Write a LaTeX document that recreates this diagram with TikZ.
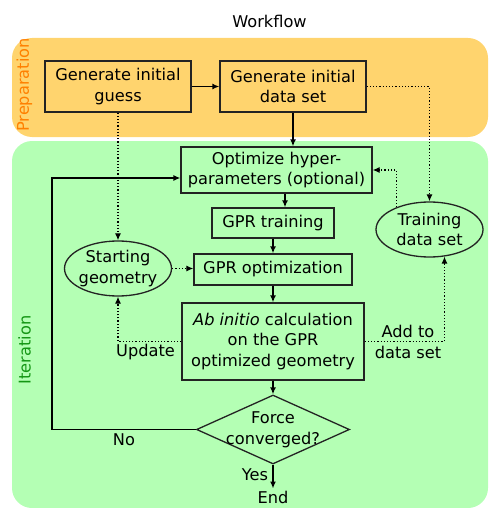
\documentclass[tikz,border=0pt]{standalone}
\usepackage{fontspec}
\setmainfont{DejaVu Sans}
\usetikzlibrary{shapes.geometric,arrows.meta,calc}
\definecolor{prepfill}{RGB}{255,212,110}
\definecolor{iterfill}{RGB}{180,255,180}
\definecolor{preptext}{RGB}{255,128,0}
\definecolor{itertext}{RGB}{20,150,20}
\definecolor{edge}{RGB}{35,35,35}
\tikzset{
  txt/.style={font=\fontsize{16.2}{20.5}\selectfont, text=black, align=center, inner sep=0pt},
  stepbox/.style={draw=edge, line width=1.3pt, rectangle, inner sep=0pt, txt},
  oval/.style={draw=edge, line width=1.3pt, ellipse, inner sep=0pt},
  decision/.style={draw=edge, line width=1.3pt, diamond, inner sep=0pt},
  tip/.style={-{Latex[length=7pt,width=6pt]}},
  flow/.style={line width=1.8pt, tip},
  loopline/.style={line width=1.3pt, tip},
  dataflow/.style={line width=1.2pt, dotted, tip},
  band/.style={rounded corners=20pt, draw=none},
  bandlabel/.style={font=\fontsize{16.2}{20}\selectfont, rotate=90, inner sep=0pt}
}
\begin{document}
\begin{tikzpicture}[x=1pt, y=-1pt]
  \useasboundingbox (0,0) rectangle (488,508);

  % background bands
  \fill[band, prepfill] (12,38) rectangle (488,137);
  \fill[band, iterfill] (12,141) rectangle (488,508);
  \node[bandlabel, text=preptext] (preplabel) at (24.5,85) {Preparation};
  \node[bandlabel, text=itertext] (iterlabel) at (24.5,350) {Iteration};

  % title
  \node[txt] (title) at (269.5,21) {Workflow};

  % preparation steps
  \node[stepbox, minimum width=146pt, minimum height=51pt] (guess) at (118,86.5) {Generate initial\\guess};
  \node[stepbox, minimum width=146pt, minimum height=51pt] (dataset) at (293,86.5) {Generate initial\\data set};

  % iteration steps
  \node[stepbox, minimum width=191pt, minimum height=46pt] (optim) at (276.5,170) {Optimize hyper-\\parameters (optional)};
  \node[stepbox, minimum width=122pt, minimum height=30pt] (gprtrain) at (273,223) {GPR training};
  \node[stepbox, minimum width=158pt, minimum height=31pt] (gpropt) at (273,269.5) {GPR optimization};
  \node[stepbox, minimum width=182pt, minimum height=77pt] (abinitio) at (273,341.5) {\textit{Ab initio} calculation\\on the GPR\\optimized geometry};
  \node[decision, minimum width=153pt, minimum height=69pt] (conv) at (273,429.5) {};
  \node[txt] (convtext) at (273,430) {Force\\converged?};
  \node[txt, inner sep=2pt] (endnode) at (273,497) {End};

  % data nodes
  \node[oval, minimum width=107pt, minimum height=55pt] (start) at (118,268.5) {};
  \node[txt] (starttext) at (start) {Starting\\geometry};
  \node[oval, minimum width=107pt, minimum height=55pt] (train) at (429.5,229.5) {};
  \node[txt] (traintext) at (train) {Training\\data set};

  % main flow
  \draw[flow] (guess) -- (dataset);
  \draw[flow] (dataset.south) -- (dataset.south |- optim.north);
  \draw[flow] (optim.south -| 285,0) -- (gprtrain.north -| 285,0);
  \draw[flow] (gprtrain) -- (gpropt);
  \draw[flow] (gpropt) -- (abinitio);
  \draw[flow] (abinitio) -- (conv);
  \draw[flow] (conv) -- (endnode);
  \node[txt] (yes) at (255,475) {Yes};

  % loop back when not converged
  \coordinate (loopcorner) at (52,429.5);
  \coordinate (loopin) at ($(optim.west)+(0,8)$);
  \draw[loopline] (conv.west) -- (loopcorner) |- (loopin);
  \node[txt] (no) at (124,440) {No};

  % data exchange
  \draw[dataflow] (guess.south) -- (guess.south |- start.north);
  \draw[dataflow] (start.east) -- (start.east -| gpropt.west);
  \draw[dataflow] (abinitio.west) -| (start.south);
  \node[txt] (update) at (145.5,352) {Update};
  \draw[dataflow] (dataset.east) -| (train.north);
  \draw[dataflow] (train.146) |- (optim.east);
  \draw[dataflow] (abinitio.east) -| (train.-61);
  \node[txt] (addto) at (408,342) {Add to\\data set};
\end{tikzpicture}
\end{document}
